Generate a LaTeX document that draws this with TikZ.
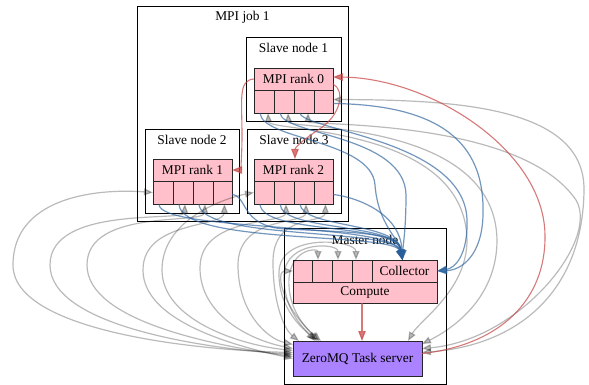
\documentclass[tikz,border=0pt]{standalone}
\usepackage{fontspec}
\setmainfont{Liberation Serif}
\usetikzlibrary{arrows.meta,calc}
\definecolor{recpink}{RGB}{255,192,203}
\definecolor{zpurple}{RGB}{171,130,255}
\definecolor{eblue}{RGB}{40,95,155}
\definecolor{ered}{RGB}{200,70,70}
\tikzset{
  clus/.style={draw=black, line width=0.7pt, inner sep=0pt, outer sep=0pt},
  rec/.style={draw=black!85, fill=recpink, line width=0.7pt, inner sep=0pt, outer sep=0pt, font=\fontsize{13.4}{15}\selectfont},
  lbl/.style={font=\fontsize{13.4}{15}\selectfont, inner sep=0pt},
  gedge/.style={draw=black, opacity=0.27, line width=1.2pt, {Triangle[length=9pt,width=7pt]}-{Triangle[length=9pt,width=7pt]}},
  bedge/.style={draw=eblue, opacity=0.65, line width=1.2pt, -{Triangle[length=10pt,width=7.5pt]}},
  redge/.style={draw=ered, opacity=0.72, line width=1.1pt, -{Triangle[length=10pt,width=7.5pt]}},
}
\newcommand\mpirec[4]{%
  \node[rec, minimum width=79pt, minimum height=22pt] (#1) at ({#2+39.5},{#3+11}) {#4};
  \node[rec, minimum width=20pt, minimum height=23pt] (#1c1) at ({#2+10},{#3+33.5}) {};
  \node[rec, minimum width=20pt, minimum height=23pt] (#1c2) at ({#2+30},{#3+33.5}) {};
  \node[rec, minimum width=20pt, minimum height=23pt] (#1c3) at ({#2+50},{#3+33.5}) {};
  \node[rec, minimum width=19pt, minimum height=23pt] (#1c4) at ({#2+69.5},{#3+33.5}) {};
}
\begin{document}
\begin{tikzpicture}[x=1pt,y=-1pt]
\fill[white] (0,0) rectangle (589,385);
\useasboundingbox (0,0) rectangle (589,385);
% clusters
\node[clus, minimum width=211pt, minimum height=215pt] (job) at (242.5,113.5) {};
\node[lbl] (jobl) at (242.5,17) {MPI job 1};
\node[clus, minimum width=95pt, minimum height=84pt] (sn1) at (293.5,79) {};
\node[lbl] (sn1l) at (293.5,48) {Slave node 1};
\node[clus, minimum width=94pt, minimum height=84pt] (sn2) at (192,171) {};
\node[lbl] (sn2l) at (192,140) {Slave node 2};
\node[clus, minimum width=94pt, minimum height=84pt] (sn3) at (294,171) {};
\node[lbl] (sn3l) at (294,140) {Slave node 3};
\node[clus, minimum width=162pt, minimum height=156pt] (master) at (365,306) {};
\node[lbl] (masterl) at (365,240) {Master node};
% records
\mpirec{r0}{254}{68}{MPI rank 0}
\mpirec{r1}{153}{159}{MPI rank 1}
\mpirec{r2}{254}{159}{MPI rank 2}
\node[rec, minimum width=19pt, minimum height=22pt] (mc1) at (302.5,271) {};
\node[rec, minimum width=20pt, minimum height=22pt] (mc2) at (322,271) {};
\node[rec, minimum width=20pt, minimum height=22pt] (mc3) at (342,271) {};
\node[rec, minimum width=20pt, minimum height=22pt] (mc4) at (362,271) {};
\node[rec, minimum width=65pt, minimum height=22pt] (col) at (404.5,271) {Collector};
\node[rec, minimum width=144pt, minimum height=21pt] (comp) at (365,292.5) {Compute};
\node[rec, fill=zpurple, minimum width=129pt, minimum height=35pt] (zmq) at (357.5,358.5) {ZeroMQ Task server};
% gray edges: left loops
\draw[gedge] (r1c1.west) .. controls (90,188) and (13,200) .. (13,265) .. controls (13,330) and (190,350) .. ($(zmq.west)+(0,-6)$);
\draw[gedge] ([xshift=2pt]r1c2.south) .. controls (184,222) and (50,205) .. (50,265) .. controls (50,325) and (200,348) .. ($(zmq.west)+(0,-4)$);
\draw[gedge] ([xshift=2pt]r1c3.south) .. controls (204,225) and (87,208) .. (87,265) .. controls (87,320) and (210,345) .. ($(zmq.west)+(0,-2)$);
\draw[gedge] ([xshift=2pt]r1c4.south) .. controls (224,228) and (143,220) .. (143,270) .. controls (143,320) and (230,345) .. ($(zmq.west)+(0,0)$);
\draw[gedge] (r2c1.west) .. controls (235,196) and (162,215) .. (162,270) .. controls (162,320) and (240,345) .. ($(zmq.west)+(0,-8)$);
\draw[gedge] ([xshift=2pt]r2c2.south) .. controls (286,225) and (200,215) .. (200,268) .. controls (200,315) and (250,340) .. ($(zmq.west)+(0,-10)$);
\draw[gedge] ([xshift=2pt]r2c3.south) .. controls (306,225) and (238,215) .. (238,265) .. controls (238,310) and (265,338) .. ($(zmq.west)+(0,-14)$);
\draw[gedge] ([xshift=2pt]r2c4.south) .. controls (325,225) and (273,212) .. (273,262) .. controls (273,305) and (285,330) .. ($(zmq.north west)+(6,0)$);
% gray edges: right loops
\draw[gedge] ([yshift=2pt]r0c4.east) .. controls (450,100) and (585,105) .. (584,190) .. controls (583,290) and (520,345) .. ($(zmq.east)+(0,-6)$);
\draw[gedge] ([xshift=4pt]r0c3.south) .. controls (308,126) and (520,118) .. (576,200) .. controls (600,240) and (520,340) .. ($(zmq.east)+(0,-10)$);
\draw[gedge] ([xshift=4pt]r0c2.south) .. controls (289,130) and (495,120) .. (497,240) .. controls (497,300) and (450,330) .. ($(zmq.north east)+(0,3)$);
\draw[gedge] ([xshift=4pt]r0c1.south) .. controls (269,132) and (465,125) .. (467,240) .. controls (467,290) and (420,320) .. ($(zmq.north east)+(-14,0)$);
% gray edges: master cells
\draw[gedge] ([xshift=-6pt]mc4.north) .. controls (356,240) and (280,232) .. (279,272) .. controls (278,310) and (305,330) .. ($(zmq.north west)+(22,0)$);
\draw[gedge] ([xshift=-4pt]mc3.north) .. controls (338,243) and (286,240) .. (284,275) .. controls (283,310) and (305,330) .. ($(zmq.north west)+(24,0)$);
\draw[gedge] ([xshift=-4pt]mc2.north) .. controls (318,248) and (292,248) .. (289,278) .. controls (287,310) and (308,330) .. ($(zmq.north west)+(26,0)$);
\draw[gedge] (mc1.west) .. controls (276,271) and (280,305) .. ($(zmq.north west)+(28,0)$);
% blue edges to collector
\draw[bedge] ([xshift=-4pt]r1c1.south) .. controls (158,232) and (392,222) .. ([xshift=-2pt]col.north);
\draw[bedge] ([xshift=-4pt]r1c2.south) .. controls (180,245) and (394,232) .. ([xshift=-2pt]col.north);
\draw[bedge] ([xshift=-4pt]r1c3.south) .. controls (200,240) and (395,228) .. ([xshift=-2pt]col.north);
\draw[bedge] ([yshift=-2pt]r1c4.east) .. controls (248,196) and (240,226) .. (285,229) .. controls (380,233) and (398,235) .. ([xshift=-2pt]col.north);
\draw[bedge] ([xshift=-4pt]r2c1.south) .. controls (262,235) and (396,222) .. ([xshift=-2pt]col.north);
\draw[bedge] ([xshift=-4pt]r2c2.south) .. controls (282,232) and (397,222) .. ([xshift=-2pt]col.north);
\draw[bedge] ([xshift=-4pt]r2c3.south) .. controls (302,228) and (398,222) .. ([xshift=-2pt]col.north);
\draw[bedge] ([yshift=-2pt]r2c4.east) .. controls (350,196) and (400,210) .. ([xshift=-2pt]col.north);
\draw[bedge] ([yshift=-2pt]r0c4.east) .. controls (450,105) and (485,150) .. (483,215) .. controls (482,255) and (462,270) .. (col.east);
\draw[bedge] ([xshift=-4pt]r0c3.south) .. controls (302,130) and (465,140) .. (467,220) .. controls (468,255) and (455,268) .. (col.east);
\draw[bedge] ([xshift=-4pt]r0c2.south) .. controls (282,135) and (405,135) .. (406,195) .. controls (406,230) and (403,245) .. ([xshift=-2pt]col.north);
\draw[bedge] ([xshift=-4pt]r0c1.south) .. controls (262,140) and (372,140) .. (375,185) .. controls (378,225) and (400,240) .. ([xshift=-2pt]col.north);
% red edges
\draw[redge] ($(zmq.east)+(0,-5)$) .. controls (500,345) and (546,300) .. (545,235) .. controls (544,150) and (430,78) .. ($(r0.east)+(0,-2)$);
\draw[redge] (r0.west) .. controls (238,80) and (242,100) .. (242,135) .. controls (242,160) and (240,170) .. (r1.east);
\draw[redge] ($(r0.east)+(0,5)$) .. controls (345,90) and (342,115) .. (318,130) .. controls (300,142) and (295,148) .. ($(r2.north)+(1.5,0)$);
\draw[redge] ($(comp.south)+(-3,0)$) -- ($(zmq.north)+(4.5,0)$);
\end{tikzpicture}
\end{document}
